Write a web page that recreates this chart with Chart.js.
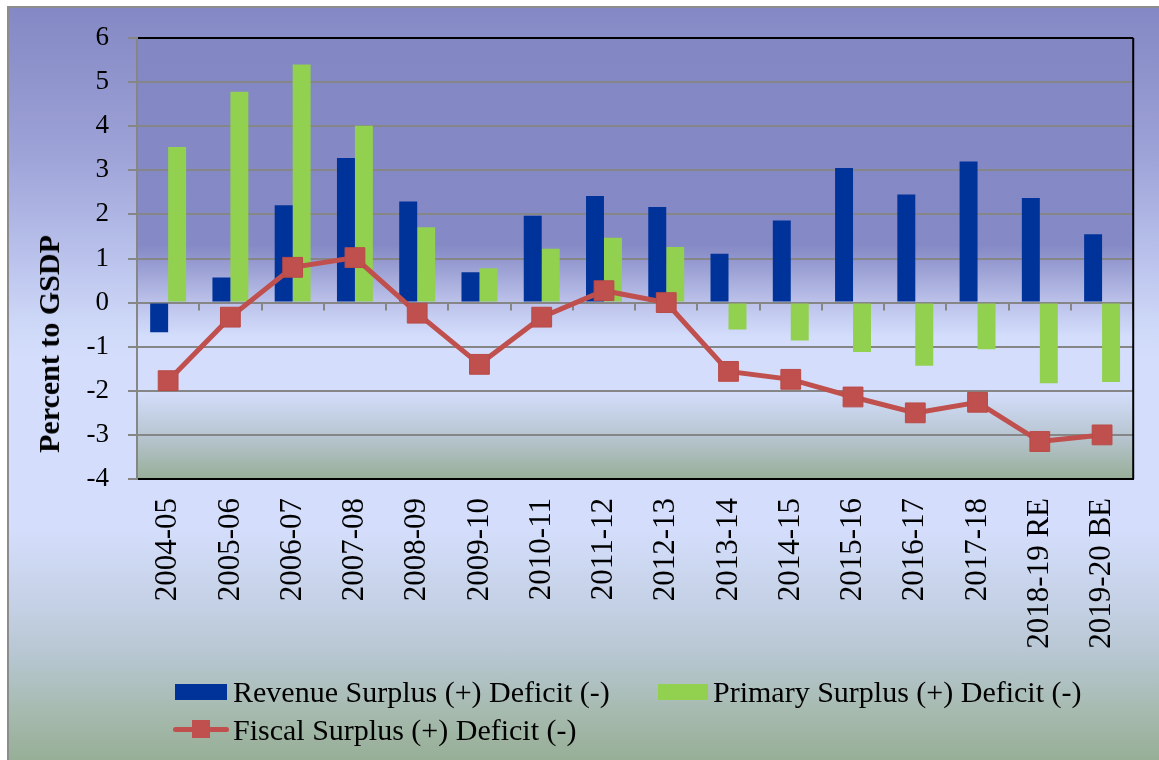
<!DOCTYPE html>
<html>
<head>
<meta charset="utf-8">
<script src="https://cdn.jsdelivr.net/npm/chart.js@4/dist/chart.umd.min.js"></script>
<style>
  body { margin: 0; width: 1159px; height: 760px; overflow: hidden; position: relative; background: #fff; }
  #frame {
    position: absolute; left: 7px; top: 6px; width: 1160px; height: 760px;
    border-left: 2px solid #8d8d8d; border-top: 2px solid #8d8d8d;
    background: linear-gradient(to bottom, #8488C4 0px, #9CA1D6 140px, #B4BCE8 230px, #CCD6F6 310px, #D4DEFC 350px, #D4DEFC 520px, #C4D0E4 600px, #B6C6D0 650px, #A6BAAE 705px, #96AE96 754px);
  }
  #chart { position: absolute; left: 0; top: 0; }
  .ytitle {
    position: absolute; left: 49px; top: 344px;
    transform: translate(-50%, -50%) rotate(-90deg);
    font: bold 30px "Liberation Serif", serif; white-space: nowrap; color: #000;
  }
  .leg { position: absolute; font: 30px "Liberation Serif", serif; line-height: 30px; white-space: nowrap; color: #000; }
  .sw { position: absolute; }
</style>
</head>
<body>
<div id="frame"></div>
<canvas id="chart" width="1159" height="760"></canvas>
<div class="ytitle">Percent to GSDP</div>

<div class="sw" style="left:175px;top:684px;width:52px;height:16px;background:#003399"></div>
<div class="leg" style="left:233px;top:677px">Revenue Surplus (+) Deficit (-)</div>
<div class="sw" style="left:658px;top:684px;width:50px;height:16px;background:#92D050"></div>
<div class="leg" style="left:713px;top:677px">Primary Surplus (+) Deficit (-)</div>
<div class="sw" style="left:173px;top:727px;width:56px;height:5px;border-radius:3px;background:#C0504D"></div>
<div class="sw" style="left:192px;top:720px;width:18px;height:18px;background:#C0504D"></div>
<div class="leg" style="left:233px;top:715px">Fiscal Surplus (+) Deficit (-)</div>

<script>
// years on the x axis
const categories = ['2004-05', '2005-06', '2006-07', '2007-08', '2008-09', '2009-10', '2010-11', '2011-12',
  '2012-13', '2013-14', '2014-15', '2015-16', '2016-17', '2017-18', '2018-19 RE', '2019-20 BE'];

// percent to GSDP
const revenue = [-0.67, 0.57, 2.21, 3.28, 2.29, 0.69, 1.97, 2.42, 2.17, 1.11, 1.86, 3.05, 2.45, 3.20, 2.37, 1.55];
const primary = [3.53, 4.78, 5.40, 4.01, 1.71, 0.78, 1.22, 1.47, 1.26, -0.61, -0.86, -1.12, -1.43, -1.06, -1.83, -1.80];
const fiscal = [-1.77, -0.33, 0.80, 1.02, -0.24, -1.40, -0.33, 0.27, 0.00, -1.56, -1.74, -2.14, -2.50, -2.26, -3.15, -3.00];

const yMin = -4, yMax = 6;

// plot area gradient + box + small ticks on the zero line
const plotDeco = {
  id: 'plotDeco',
  beforeDraw(chart) {
    const { ctx, chartArea: a } = chart;
    const g = ctx.createLinearGradient(0, a.top, 0, a.bottom);
    g.addColorStop(0, '#8387C3');
    g.addColorStop(0.47, '#8589C5');
    g.addColorStop(0.6, '#BCC2EA');
    g.addColorStop(0.68, '#D4DEFC');
    g.addColorStop(0.8, '#D4DEFC');
    g.addColorStop(0.9, '#B8C6D2');
    g.addColorStop(1, '#98AE98');
    ctx.save();
    ctx.fillStyle = g;
    ctx.fillRect(a.left, a.top, a.right - a.left, a.bottom - a.top);
    ctx.restore();
  },
  beforeDatasetsDraw(chart) {
    const { ctx, chartArea: a, scales: { x, y } } = chart;
    const y0 = y.getPixelForValue(0);
    ctx.save();
    ctx.strokeStyle = '#868686';
    ctx.lineWidth = 2;
    ctx.beginPath();
    for (let i = 0; i < categories.length; i++) {
      const px = Math.round(x.getPixelForValue(i + 0.5));
      ctx.moveTo(px, y0);
      ctx.lineTo(px, y0 + 8);
    }
    ctx.stroke();
    ctx.strokeStyle = '#000';
    ctx.beginPath();
    ctx.moveTo(a.right, a.top);
    ctx.lineTo(a.right, a.bottom);
    ctx.stroke();
    ctx.restore();
  }
};

new Chart(document.getElementById('chart'), {
  data: {
    labels: categories,
    datasets: [
      {
        type: 'line', label: 'Fiscal Surplus (+) Deficit (-)', data: fiscal, order: 0,
        borderColor: '#C0504D', borderWidth: 5, tension: 0,
        pointStyle: 'rect', pointRadius: 14, pointHoverRadius: 14,
        pointBackgroundColor: '#C0504D', pointBorderColor: '#B94A47', pointBorderWidth: 1
      },
      {
        type: 'bar', label: 'Revenue Surplus (+) Deficit (-)', data: revenue, order: 1,
        backgroundColor: '#003399', categoryPercentage: 0.577, barPercentage: 1
      },
      {
        type: 'bar', label: 'Primary Surplus (+) Deficit (-)', data: primary, order: 2,
        backgroundColor: '#92D050', categoryPercentage: 0.577, barPercentage: 1
      }
    ]
  },
  options: {
    responsive: false,
    animation: false,
    layout: { padding: { top: 38, right: 23, left: 0, bottom: 0 } },
    plugins: { legend: { display: false }, tooltip: { enabled: false } },
    scales: {
      x: {
        grid: { display: false, drawTicks: false },
        border: { display: true, color: '#000', width: 2 },
        ticks: {
          autoSkip: false, minRotation: 90, maxRotation: 90, padding: 19,
          color: '#000', font: { family: 'Liberation Serif', size: 31 }
        },
        afterFit(s) { s.height = 760 - 479; }
      },
      y: {
        min: yMin, max: yMax,
        grid: {
          color: c => (c.tick && c.tick.value === yMax ? '#000' : '#868686'),
          tickColor: '#868686', lineWidth: 2, tickLength: 9
        },
        border: { display: true, color: '#868686', width: 2 },
        ticks: {
          stepSize: 1, padding: 19, color: '#000',
          font: { family: 'Liberation Serif', size: 27 }
        },
        afterFit(s) { s.width = 137; }
      }
    }
  },
  plugins: [plotDeco]
});
</script>
</body>
</html>
